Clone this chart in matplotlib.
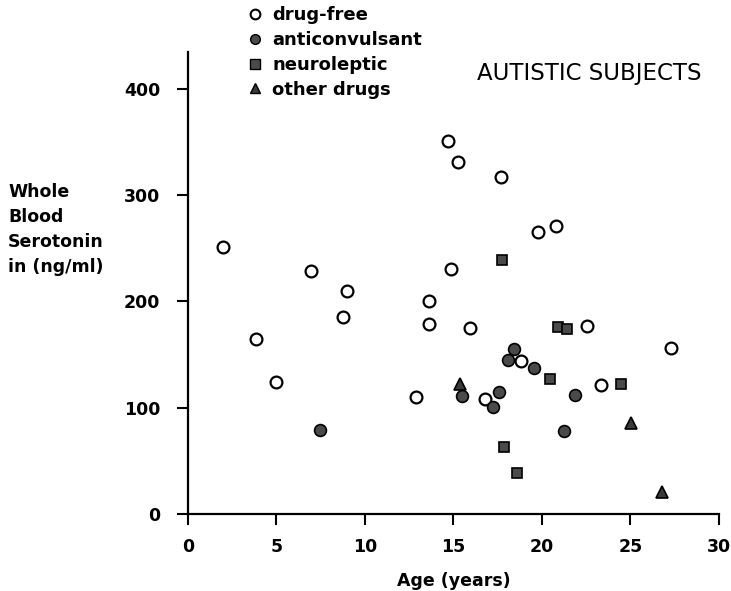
import matplotlib.pyplot as plt
from matplotlib.lines import Line2D

# Whole blood serotonin vs age, grouped by medication status
free_age = [2.0, 3.87, 4.95, 6.95, 8.77, 8.98, 12.88, 13.64, 13.64, 14.70,
            14.85, 15.28, 15.91, 16.78, 17.67, 18.80, 19.78, 20.78, 22.54,
            23.36, 27.31]
free_ser = [251, 165, 124, 229, 185, 210, 110, 200, 179, 351,
            231, 331, 175, 108, 317, 144, 265, 271, 177,
            121, 156]

anti_age = [7.45, 15.49, 17.22, 17.57, 18.07, 18.41, 19.57, 21.23, 21.89]
anti_ser = [79, 111, 101, 115, 145, 155, 137, 78, 112]

neuro_age = [17.72, 17.88, 18.59, 20.46, 20.88, 21.44, 24.47]
neuro_ser = [239, 63, 39, 127, 176, 174, 122]

other_age = [15.38, 25.02, 26.76]
other_ser = [122, 86, 21]

plt.rcParams['font.family'] = ['DejaVu Sans']

fig = plt.figure(figsize=(7.31, 5.91), dpi=100)
ax = fig.add_axes([0.257, 0.1303, 0.7266, 0.7822])

ms = 8.5
ax.plot(free_age, free_ser, 'o', ms=ms, mfc='white', mec='black', mew=1.6,
        linestyle='none')
ax.plot(anti_age, anti_ser, 'o', ms=ms, mfc='#4a4a4a', mec='black', mew=1.2,
        linestyle='none')
ax.plot(neuro_age, neuro_ser, 's', ms=7.5, mfc='#4a4a4a', mec='black', mew=1.2,
        linestyle='none')
ax.plot(other_age, other_ser, '^', ms=9, mfc='#3a3a3a', mec='black', mew=1.2,
        linestyle='none')

ax.set_xlim(0, 30)
ax.set_ylim(0, 435)
ax.set_xticks([0, 5, 10, 15, 20, 25, 30])
ax.set_yticks([0, 100, 200, 300, 400])
for side in ['top', 'right']:
    ax.spines[side].set_visible(False)
for side in ['left', 'bottom']:
    ax.spines[side].set_linewidth(1.6)
ax.tick_params(direction='out', length=8, width=1.5, labelsize=12.5)
ax.tick_params(axis='x', pad=9)
ax.tick_params(axis='y', pad=12)
for lab in ax.get_xticklabels() + ax.get_yticklabels():
    lab.set_fontweight('bold')

ax.set_xlabel('Age (years)', fontsize=12.5, fontweight='bold', labelpad=12)
fig.text(0.011, 0.6125, 'Whole\nBlood\nSerotonin\nin (ng/ml)', fontsize=12.5,
         fontweight='bold', ha='left', va='center', linespacing=1.5)

fig.text(0.6525, 0.8756, 'AUTISTIC SUBJECTS', fontsize=16.5, ha='left',
         va='center')

handles = [
    Line2D([], [], marker='o', ls='none', ms=7, mfc='white', mec='black', mew=1.5),
    Line2D([], [], marker='o', ls='none', ms=7, mfc='#4a4a4a', mec='black'),
    Line2D([], [], marker='s', ls='none', ms=6.5, mfc='#4a4a4a', mec='black'),
    Line2D([], [], marker='^', ls='none', ms=7.5, mfc='#3a3a3a', mec='black'),
]
labels = ['drug-free', 'anticonvulsant', 'neuroleptic', 'other drugs']
leg = fig.legend(handles, labels, loc='upper left',
                 bbox_to_anchor=(0.322, 1.008), frameon=False,
                 handlelength=1.0, handletextpad=0.45, labelspacing=0.38,
                 borderaxespad=0.2, prop={'size': 13, 'weight': 'bold'})

fig.savefig('out.png', dpi=100)
